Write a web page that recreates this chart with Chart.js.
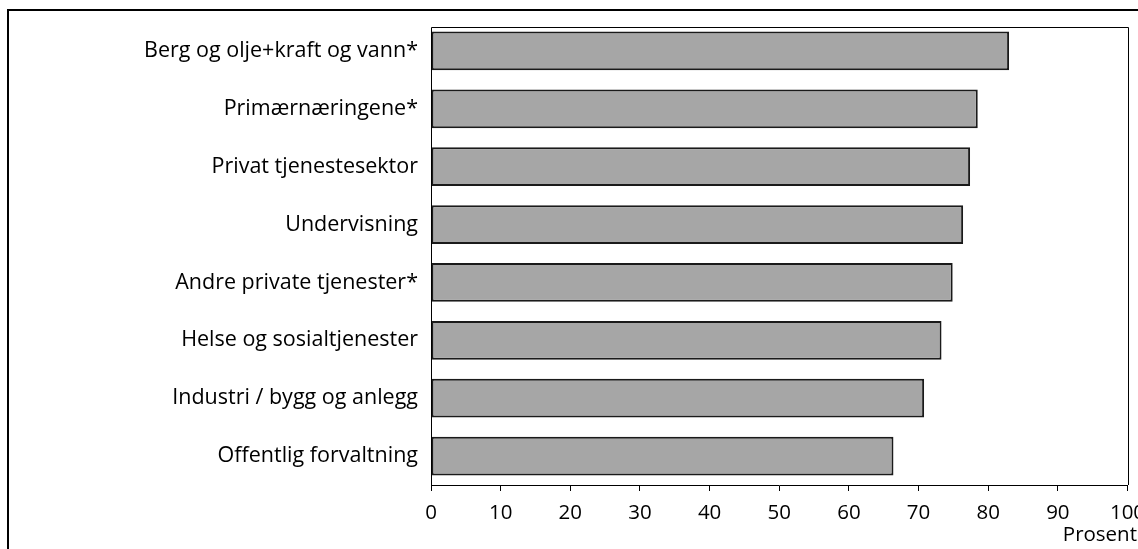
<!DOCTYPE html>
<html>
<head>
<meta charset="utf-8">
<script src="https://cdn.jsdelivr.net/npm/chart.js@4.4.1/dist/chart.umd.min.js"></script>
<style>
  html, body { margin: 0; padding: 0; background: #fff; }
  #wrap { width: 1138px; height: 549px; position: relative; }
</style>
</head>
<body>
<div id="wrap"><canvas id="c"></canvas></div>
<script>
// Sectors (top to bottom) and their share, in per cent
const categories = [
  'Berg og olje+kraft og vann*',
  'Primærnæringene*',
  'Privat tjenestesektor',
  'Undervisning',
  'Andre private tjenester*',
  'Helse og sosialtjenester',
  'Industri / bygg og anlegg',
  'Offentlig forvaltning'
];
const shares = [83.0, 78.5, 77.4, 76.4, 74.9, 73.3, 70.8, 66.4];
const xTicks = [0, 10, 20, 30, 40, 50, 60, 70, 80, 90, 100];
const xUnit = 'Prosent';

const FONT = '"Open Sans", "DejaVu Sans", sans-serif';

// Outer frame, plot box and the unit label under the value axis
const decorations = {
  id: 'decorations',
  beforeDraw(chart) {
    const ctx = chart.ctx;
    ctx.save();
    ctx.strokeStyle = '#000';
    ctx.lineWidth = 2;
    ctx.beginPath();
    ctx.moveTo(8, chart.height + 5);
    ctx.lineTo(8, 10);
    ctx.lineTo(chart.width + 5, 10);
    ctx.stroke();
    ctx.restore();
  },
  afterDraw(chart) {
    const ctx = chart.ctx;
    const a = chart.chartArea;
    const top = Math.round(a.top + 5) + 0.5;
    const left = Math.round(a.left) + 0.5;
    const right = Math.round(a.right) + 0.5;
    ctx.save();
    ctx.strokeStyle = '#000';
    ctx.lineWidth = 1;
    ctx.beginPath();
    ctx.moveTo(left, a.bottom);
    ctx.lineTo(left, top);
    ctx.lineTo(right, top);
    ctx.lineTo(right, a.bottom);
    ctx.stroke();
    ctx.fillStyle = '#000';
    ctx.font = '20.5px ' + FONT;
    ctx.textAlign = 'right';
    ctx.textBaseline = 'alphabetic';
    ctx.fillText(xUnit, a.right + 9.5, a.bottom + 56);
    ctx.restore();
  }
};

new Chart(document.getElementById('c'), {
  type: 'bar',
  data: {
    labels: categories,
    datasets: [{
      data: shares,
      backgroundColor: '#a6a6a6',
      borderColor: '#1a1a1a',
      borderWidth: 2,
      borderSkipped: false,
      barPercentage: 0.668,
      categoryPercentage: 1.0
    }]
  },
  options: {
    indexAxis: 'y',
    responsive: true,
    maintainAspectRatio: false,
    animation: false,
    layout: { padding: { top: 22, right: 10.5, bottom: 0, left: 0 } },
    plugins: {
      legend: { display: false },
      tooltip: { enabled: false },
      title: { display: false }
    },
    scales: {
      x: {
        type: 'linear',
        min: 0,
        max: 100,
        afterBuildTicks(scale) { scale.ticks = xTicks.map(v => ({ value: v })); },
        afterFit(scale) {
          scale.height = 64;
          scale.paddingLeft = 0;
          scale.paddingRight = 0;
        },
        grid: {
          drawOnChartArea: false,
          drawTicks: true,
          tickLength: 6,
          color: '#000',
          lineWidth: 1
        },
        border: { display: true, color: '#000', width: 1 },
        ticks: {
          color: '#000',
          padding: 10,
          maxRotation: 0,
          autoSkip: false,
          font: { family: FONT, size: 20.5 }
        }
      },
      y: {
        afterFit(scale) {
          scale.width = 431;
          scale.paddingTop = 0;
          scale.paddingBottom = 0;
        },
        grid: { display: false, drawTicks: false, tickLength: 0 },
        border: { display: false },
        ticks: {
          color: '#000',
          padding: 13,
          autoSkip: false,
          font: { family: FONT, size: 21.5 }
        }
      }
    }
  },
  plugins: [decorations]
});
</script>
</body>
</html>
